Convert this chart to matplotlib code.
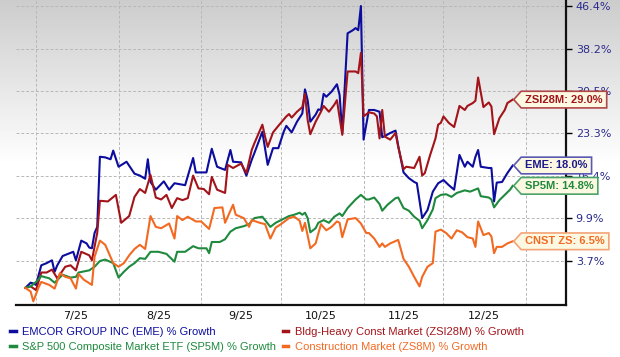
import numpy as np
import pandas as pd
import matplotlib
matplotlib.use("Agg")
import matplotlib.pyplot as plt
from matplotlib.path import Path

# % growth since 6/27/25 (month-day of 2025)
eme_dates = ["06-27", "06-29", "06-30", "07-01", "07-03", "07-05", "07-07", "07-08", "07-09", "07-11",
             "07-13", "07-15", "07-16", "07-18", "07-20", "07-21", "07-22", "07-23", "07-24", "07-25",
             "07-27", "07-29", "07-30", "08-01", "08-04", "08-07", "08-09", "08-11", "08-12", "08-13",
             "08-15", "08-18", "08-20", "08-22", "08-26", "08-29", "08-30", "09-03", "09-05", "09-07",
             "09-10", "09-12", "09-13", "09-16", "09-18", "09-20", "09-21", "09-24", "09-26", "09-28",
             "09-30", "10-02", "10-03", "10-05", "10-07", "10-09", "10-10", "10-11", "10-12", "10-14",
             "10-15", "10-16", "10-17", "10-18", "10-20", "10-22", "10-23", "10-24", "10-26", "10-28",
             "10-29", "10-30", "10-31", "11-01", "11-03", "11-05", "11-07", "11-08", "11-09", "11-11",
             "11-13", "11-14", "11-16", "11-18", "11-20", "11-21", "11-23", "11-25", "11-27", "11-29",
             "12-01", "12-03", "12-05", "12-07", "12-09", "12-10", "12-12", "12-13", "12-14", "12-15",
             "12-18", "12-19", "12-20", "12-21", "12-23", "12-25", "12-27"]
eme_pct = [0.0, 0.7, 0.6, 0.4, 3.1, 3.4, 3.8, 2.2, 3.1, 4.4,
           4.7, 5.0, 3.8, 6.6, 6.2, 5.6, 5.5, 7.7, 8.6, 19.4,
           19.3, 19.0, 20.4, 17.8, 18.6, 16.7, 16.4, 15.9, 19.0, 15.4,
           14.2, 15.5, 14.2, 15.2, 14.9, 19.2, 16.9, 16.9, 20.7, 17.8,
           17.3, 20.5, 18.6, 18.5, 16.4, 18.9, 20.0, 23.5, 18.1, 20.8,
           20.8, 23.5, 24.5, 23.4, 25.2, 26.6, 30.8, 28.9, 25.2, 26.4,
           27.3, 27.2, 30.0, 29.5, 30.4, 31.7, 29.8, 23.3, 41.1, 41.7,
           42.1, 41.7, 46.4, 22.2, 27.2, 27.2, 26.9, 22.6, 22.8, 23.3,
           23.7, 21.2, 16.9, 16.0, 15.4, 15.2, 9.9, 11.1, 13.9, 15.2,
           15.7, 14.9, 14.2, 19.7, 17.8, 18.6, 17.8, 19.4, 20.5, 17.8,
           17.6, 17.6, 12.4, 15.3, 15.4, 16.8, 18.0]

zsi_dates = ["06-27", "06-29", "07-01", "07-03", "07-05", "07-07", "07-09", "07-12", "07-14", "07-16",
             "07-18", "07-21", "07-22", "07-24", "07-25", "07-28", "07-31", "08-02", "08-05", "08-07",
             "08-09", "08-11", "08-13", "08-15", "08-17", "08-19", "08-21", "08-23", "08-25", "08-27",
             "08-29", "08-31", "09-02", "09-04", "09-05", "09-07", "09-10", "09-11", "09-13", "09-16",
             "09-18", "09-20", "09-21", "09-24", "09-25", "09-26", "09-28", "09-30", "10-03", "10-04",
             "10-05", "10-07", "10-09", "10-10", "10-11", "10-12", "10-14", "10-16", "10-17", "10-19",
             "10-21", "10-22", "10-24", "10-26", "10-29", "10-30", "10-31", "11-01", "11-03", "11-05",
             "11-06", "11-07", "11-08", "11-09", "11-11", "11-13", "11-14", "11-16", "11-17", "11-20",
             "11-22", "11-23", "11-24", "11-26", "11-28", "11-29", "11-30", "12-01", "12-03", "12-05",
             "12-07", "12-09", "12-10", "12-12", "12-13", "12-14", "12-16", "12-18", "12-19", "12-20",
             "12-22", "12-24", "12-25", "12-27"]
zsi_pct = [0.0, 0.2, -0.3, 2.1, 2.1, 2.5, 1.3, 2.9, 3.1, 2.4,
           5.0, 4.5, 3.8, 7.7, 12.5, 12.4, 13.4, 9.2, 10.2, 13.1,
           14.3, 13.7, 16.5, 13.0, 12.7, 13.4, 11.4, 12.9, 12.6, 12.9,
           16.4, 14.4, 14.3, 13.5, 16.2, 14.2, 13.7, 18.1, 17.6, 18.3,
           16.8, 20.5, 21.6, 24.7, 22.7, 21.0, 23.4, 24.5, 26.1, 26.5,
           25.9, 26.9, 27.7, 30.0, 25.5, 23.1, 25.2, 26.9, 27.9, 26.9,
           28.1, 28.9, 23.0, 34.0, 34.0, 33.7, 37.4, 26.1, 26.8, 26.6,
           26.1, 22.4, 27.2, 22.7, 22.2, 23.3, 21.0, 17.4, 17.8, 17.6,
           19.4, 16.4, 16.8, 19.7, 22.4, 24.7, 25.0, 26.1, 25.0, 24.3,
           27.9, 27.2, 27.9, 28.4, 28.8, 32.9, 27.7, 28.5, 27.8, 23.1,
           25.8, 27.2, 28.4, 29.0]

sp5_dates = ["06-27", "06-29", "07-01", "07-03", "07-06", "07-08", "07-11", "07-14", "07-16", "07-17",
             "07-21", "07-23", "07-25", "07-27", "07-30", "08-01", "08-03", "08-05", "08-07", "08-09",
             "08-11", "08-13", "08-16", "08-19", "08-22", "08-23", "08-26", "08-29", "08-31", "09-03",
             "09-04", "09-05", "09-08", "09-10", "09-12", "09-14", "09-17", "09-19", "09-21", "09-24",
             "09-27", "09-29", "10-01", "10-04", "10-06", "10-08", "10-09", "10-10", "10-11", "10-12",
             "10-14", "10-15", "10-16", "10-17", "10-19", "10-21", "10-23", "10-24", "10-26", "10-29",
             "10-31", "11-02", "11-03", "11-05", "11-07", "11-08", "11-10", "11-13", "11-14", "11-16",
             "11-18", "11-20", "11-22", "11-23", "11-25", "11-27", "11-28", "11-30", "12-02", "12-04",
             "12-06", "12-09", "12-11", "12-14", "12-15", "12-18", "12-19", "12-20", "12-22", "12-24",
             "12-26", "12-27"]
sp5_pct = [0.0, 0.2, 0.8, 1.6, 1.3, 0.7, 1.8, 1.4, 1.5, 2.1,
           2.4, 2.9, 3.7, 3.9, 3.4, 1.4, 2.2, 2.9, 3.4, 4.1,
           4.0, 5.0, 5.0, 4.7, 3.6, 5.0, 5.0, 5.8, 5.5, 5.5,
           4.8, 6.4, 6.4, 6.8, 7.9, 8.4, 8.7, 9.0, 9.9, 10.1,
           8.6, 9.2, 9.6, 10.2, 10.4, 10.7, 10.4, 10.7, 9.9, 7.8,
           8.4, 9.2, 9.4, 9.6, 9.2, 10.1, 10.6, 10.2, 11.4, 12.7,
           13.4, 12.7, 12.7, 13.0, 12.0, 11.0, 11.9, 12.9, 13.0, 11.4,
           11.0, 10.1, 9.5, 8.4, 9.6, 11.2, 12.9, 13.4, 13.5, 13.1,
           13.7, 14.1, 13.9, 14.4, 13.2, 13.0, 12.7, 11.5, 12.6, 13.4,
           14.2, 14.8]

zs8_dates = ["06-27", "06-29", "06-30", "07-02", "07-03", "07-06", "07-08", "07-10", "07-12", "07-14",
             "07-16", "07-17", "07-19", "07-22", "07-23", "07-25", "07-27", "07-30", "08-01", "08-03",
             "08-05", "08-07", "08-09", "08-11", "08-13", "08-15", "08-17", "08-20", "08-22", "08-23",
             "08-25", "08-27", "08-30", "09-01", "09-04", "09-06", "09-09", "09-10", "09-13", "09-14",
             "09-17", "09-19", "09-20", "09-23", "09-25", "09-27", "09-29", "10-01", "10-04", "10-06",
             "10-08", "10-09", "10-10", "10-12", "10-14", "10-16", "10-18", "10-20", "10-22", "10-23",
             "10-24", "10-26", "10-29", "10-31", "11-02", "11-03", "11-05", "11-07", "11-08", "11-09",
             "11-11", "11-14", "11-16", "11-18", "11-20", "11-22", "11-23", "11-25", "11-27", "11-28",
             "11-30", "12-02", "12-04", "12-06", "12-08", "12-10", "12-12", "12-13", "12-14", "12-16",
             "12-18", "12-19", "12-20", "12-21", "12-23", "12-25", "12-27"]
zs8_pct = [0.0, -0.5, -1.8, 0.1, 0.8, 0.4, -0.1, 2.0, 1.5, 1.3,
           -0.1, 1.9, 1.1, 0.4, 4.3, 6.6, 6.0, 3.4, 2.9, 3.4,
           4.5, 5.4, 6.0, 5.4, 10.2, 8.6, 8.4, 9.1, 6.9, 10.2,
           9.6, 10.1, 9.4, 9.4, 8.3, 11.4, 11.5, 9.2, 11.9, 10.4,
           9.9, 8.6, 9.6, 9.2, 9.0, 6.9, 8.5, 9.0, 9.9, 10.1,
           9.5, 8.0, 9.2, 5.5, 6.2, 9.0, 8.1, 8.6, 9.4, 9.2,
           7.1, 9.7, 9.9, 9.1, 7.7, 7.7, 6.9, 5.7, 6.2, 5.7,
           6.2, 6.7, 4.0, 2.9, 1.5, 0.2, 1.5, 2.9, 3.4, 7.9,
           8.2, 7.7, 6.9, 8.1, 7.8, 7.1, 6.9, 5.7, 9.4, 7.4,
           7.7, 7.2, 4.8, 5.7, 5.7, 6.2, 6.5]

legend_labels = ["EMCOR GROUP INC (EME) % Growth",
                 "Bldg-Heavy Const Market (ZSI28M) % Growth",
                 "S&P 500 Composite Market ETF (SP5M) % Growth",
                 "Construction Market (ZS8M) % Growth"]
tag_names = ["EME", "ZSI28M", "SP5M", "CNST ZS"]
ytick_pct = [3.7, 9.9, 16.4, 23.3, 30.5, 38.2, 46.4]
month_labels = ["7/25", "8/25", "9/25", "10/25", "11/25", "12/25"]

line_colors = ["#0c0c9e", "#a3141a", "#1f8a3e", "#f26a22"]
text_colors = ["#1a1a8c", "#a3141a", "#1f8a3e", "#f26a22"]
edge_colors = ["#5a5ab4", "#b04848", "#4aa468", "#f4a476"]


def to_dates(days):
    return pd.to_datetime(["2025-" + d for d in days])


def tag_box(x0, y0, width, height, mutation_size):
    # label box with a pointed left end
    pad = 0.3 * mutation_size
    x1, y1 = x0 + width + pad * 1.4, y0 + height + pad
    x0, y0 = x0 - pad, y0 - pad
    tip = 0.45 * (y1 - y0)
    ym = (y0 + y1) / 2
    verts = [(x0, y0), (x1, y0), (x1, y1), (x0, y1), (x0 - tip, ym), (x0, y0), (x0, y0)]
    codes = [Path.MOVETO] + [Path.LINETO] * 5 + [Path.CLOSEPOLY]
    return Path(verts, codes)


def main():
    W, H = 620, 357
    fig = plt.figure(figsize=(W / 100, H / 100), dpi=100)

    # grey-to-white background fade at the top of the picture
    bg = fig.add_axes([0, 0, 1, 1], zorder=-10)
    rows = np.arange(H)
    shade = np.clip(0.80 + 0.20 * rows / 165, 0, 1).reshape(-1, 1)
    bg.imshow(shade, cmap="gray", vmin=0, vmax=1, aspect="auto", extent=(0, 1, 0, 1))
    bg.axis("off")

    ax = fig.add_axes([16 / W, 1 - 305 / H, 550 / W, 305 / H])
    ax.set_facecolor("none")
    ax.set_yscale("function", functions=(lambda v: np.log1p(np.asarray(v) / 100),
                                         lambda u: np.expm1(u) * 100))

    series = [(eme_dates, eme_pct), (zsi_dates, zsi_pct), (sp5_dates, sp5_pct), (zs8_dates, zs8_pct)]
    handles = []
    for (dts, vals), c in zip(series, line_colors):
        h, = ax.plot(to_dates(dts), vals, color=c, lw=1.5, solid_joinstyle="round", zorder=3)
        handles.append(h)

    ax.set_xlim(pd.Timestamp("2025-06-23 12:00"), pd.Timestamp("2026-01-16"))
    ax.set_ylim(-2.29, 47.6)

    # month boundaries as grid lines, month labels centred between them
    ax.set_xticks(pd.date_range("2025-07-01", "2026-01-01", freq="MS"))
    ax.set_xticklabels([])
    ax.set_xticks([pd.Timestamp(f"2025-{m:02d}-16") for m in range(7, 13)], minor=True)
    ax.set_xticklabels(month_labels, minor=True)
    ax.tick_params(axis="x", which="both", length=0, pad=4, labelsize=8, labelcolor="#111111")

    ax.yaxis.tick_right()
    ax.set_yticks(ytick_pct)
    ax.set_yticklabels([f"{v}%" for v in ytick_pct])
    ax.yaxis.set_minor_locator(matplotlib.ticker.NullLocator())
    ax.tick_params(axis="y", length=4, width=1, pad=3, labelsize=8, labelcolor="#2b2b8c")

    ax.grid(True, which="major", ls=(0, (3, 2)), color="#b8b8b8", lw=0.7)
    for side in ["left", "top"]:
        ax.spines[side].set_visible(False)
    for side in ["right", "bottom"]:
        ax.spines[side].set_linewidth(1.6)
        ax.spines[side].set_color("#111111")

    for (dts, vals), name, tc, ec in zip(series, tag_names, text_colors, edge_colors):
        ax.annotate(f"{name}: {vals[-1]:.1f}%", xy=(to_dates(dts)[-1], vals[-1]),
                    xytext=(8.5, 0), textcoords="offset points", ha="left", va="center",
                    fontsize=8, fontweight="bold", family="Liberation Sans", color=tc,
                    bbox=dict(boxstyle=tag_box, fc="#fcf8e1", ec=ec, lw=1.2),
                    annotation_clip=False, zorder=6)

    order = [0, 2, 1, 3]
    leg = fig.legend([handles[i] for i in order], [legend_labels[i] for i in order],
                     loc="upper left", bbox_to_anchor=(10 / W, 1 - 327 / H), ncol=2,
                     frameon=False, handlelength=0.5, handletextpad=0.6, columnspacing=0.6,
                     labelspacing=0.48, borderpad=0, borderaxespad=0,
                     prop={"family": "Liberation Sans", "size": 8}, labelcolor="linecolor")
    for lh in leg.legend_handles:
        lh.set_linewidth(2.5)

    fig.savefig("out.png", dpi=100)


if __name__ == "__main__":
    main()
